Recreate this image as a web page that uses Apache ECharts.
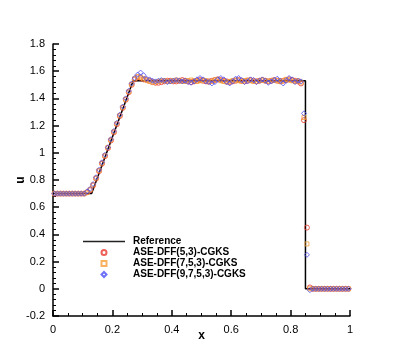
<!DOCTYPE html>
<html>
<head>
<meta charset="utf-8">
<script src="https://cdn.jsdelivr.net/npm/echarts@6/dist/echarts.min.js"></script>
<style>
  html, body { margin: 0; padding: 0; background: #fff; }
  #main { width: 399px; height: 355px; }
</style>
</head>
<body>
<div id="main"></div>
<script>
// reference solution (piecewise linear)
const refX = [0, 0.13, 0.27, 0.85, 0.85, 1]
const refU = [0.7, 0.7, 1.53, 1.53, 0, 0]

// cell centres
const xs = [
  0.005, 0.015, 0.025, 0.035, 0.045, 0.055, 0.065, 0.075, 0.085, 0.095,
  0.105, 0.115, 0.125, 0.135, 0.145, 0.155, 0.165, 0.175, 0.185, 0.195,
  0.205, 0.215, 0.225, 0.235, 0.245, 0.255, 0.265, 0.275, 0.285, 0.295,
  0.305, 0.315, 0.325, 0.335, 0.345, 0.355, 0.365, 0.375, 0.385, 0.395,
  0.405, 0.415, 0.425, 0.435, 0.445, 0.455, 0.465, 0.475, 0.485, 0.495,
  0.505, 0.515, 0.525, 0.535, 0.545, 0.555, 0.565, 0.575, 0.585, 0.595,
  0.605, 0.615, 0.625, 0.635, 0.645, 0.655, 0.665, 0.675, 0.685, 0.695,
  0.705, 0.715, 0.725, 0.735, 0.745, 0.755, 0.765, 0.775, 0.785, 0.795,
  0.805, 0.815, 0.825, 0.835, 0.845, 0.855, 0.865, 0.875, 0.885, 0.895,
  0.905, 0.915, 0.925, 0.935, 0.945, 0.955, 0.965, 0.975, 0.985, 0.995
]

const dff53 = [
  0.70, 0.70, 0.70, 0.70, 0.70, 0.70, 0.70, 0.70, 0.70, 0.70,
  0.70, 0.71, 0.725, 0.76, 0.81, 0.865, 0.92, 0.975, 1.035, 1.09,
  1.15, 1.21, 1.27, 1.33, 1.39, 1.445, 1.50, 1.54, 1.555, 1.55,
  1.54, 1.535, 1.53, 1.52, 1.515, 1.515, 1.52, 1.525, 1.53, 1.53,
  1.525, 1.525, 1.53, 1.535, 1.53, 1.525, 1.52, 1.525, 1.53, 1.535,
  1.53, 1.525, 1.525, 1.53, 1.535, 1.54, 1.535, 1.53, 1.525, 1.52,
  1.525, 1.53, 1.535, 1.53, 1.525, 1.53, 1.535, 1.53, 1.525, 1.53,
  1.535, 1.53, 1.525, 1.53, 1.535, 1.53, 1.525, 1.53, 1.535, 1.54,
  1.535, 1.53, 1.525, 1.51, 1.24, 0.45, 0.01, 0.0, 0.0, 0.0,
  0.0, 0.0, 0.0, 0.0, 0.0, 0.0, 0.0, 0.0, 0.0, 0.0
]

const dff753 = [
  0.70, 0.70, 0.70, 0.70, 0.70, 0.70, 0.70, 0.70, 0.70, 0.70,
  0.70, 0.71, 0.73, 0.765, 0.815, 0.87, 0.925, 0.98, 1.04, 1.095,
  1.155, 1.215, 1.275, 1.335, 1.395, 1.45, 1.505, 1.545, 1.56, 1.555,
  1.545, 1.535, 1.525, 1.52, 1.52, 1.525, 1.53, 1.53, 1.525, 1.525,
  1.53, 1.535, 1.53, 1.525, 1.525, 1.53, 1.535, 1.53, 1.525, 1.53,
  1.535, 1.53, 1.52, 1.525, 1.535, 1.54, 1.53, 1.525, 1.52, 1.525,
  1.53, 1.535, 1.53, 1.525, 1.53, 1.535, 1.53, 1.525, 1.525, 1.53,
  1.535, 1.53, 1.525, 1.53, 1.535, 1.53, 1.525, 1.53, 1.54, 1.535,
  1.53, 1.525, 1.53, 1.52, 1.26, 0.33, 0.0, 0.0, 0.0, 0.0,
  0.0, 0.0, 0.0, 0.0, 0.0, 0.0, 0.0, 0.0, 0.0, 0.0
]

const dff9753 = [
  0.70, 0.70, 0.70, 0.70, 0.70, 0.70, 0.70, 0.70, 0.70, 0.70,
  0.70, 0.715, 0.735, 0.77, 0.82, 0.875, 0.93, 0.985, 1.04, 1.10,
  1.16, 1.22, 1.28, 1.34, 1.40, 1.455, 1.51, 1.55, 1.575, 1.59,
  1.57, 1.545, 1.54, 1.53, 1.525, 1.53, 1.535, 1.53, 1.52, 1.525,
  1.53, 1.535, 1.53, 1.525, 1.53, 1.52, 1.515, 1.525, 1.54, 1.55,
  1.54, 1.525, 1.52, 1.51, 1.52, 1.54, 1.55, 1.54, 1.52, 1.51,
  1.525, 1.545, 1.55, 1.535, 1.52, 1.525, 1.54, 1.535, 1.52, 1.53,
  1.54, 1.53, 1.515, 1.525, 1.535, 1.545, 1.53, 1.51, 1.53, 1.55,
  1.54, 1.52, 1.53, 1.525, 1.29, 0.25, -0.01, 0.0, 0.0, 0.0,
  0.0, 0.0, 0.0, 0.0, 0.0, 0.0, 0.0, 0.0, 0.0, 0.0
]

const pair = (a, b) => a.map((v, i) => [v, b[i]])

// open markers + thin bar for the reference line legend
const squareIcon = 'path://M0,0L10,0L10,10L0,10Z'
const diamondIcon = 'path://M5,0L10,5L5,10L0,5Z'
const lineIcon = 'path://M0,0L84,0L84,3L0,3Z'

let myChart = echarts.init(document.getElementById('main'))
let font = 'Liberation Sans, Arial, Helvetica, sans-serif'
let axisCommon = {
  axisLine: { show: true, onZero: false, lineStyle: { color: '#000', width: 1.5 } },
  axisTick: { show: true, inside: true, length: 6, lineStyle: { color: '#000', width: 1.5 } },
  minorTick: { show: true, length: 3, lineStyle: { color: '#000', width: 1 } },
  axisLabel: { color: '#000', fontSize: 11, fontFamily: font },
  splitLine: { show: false },
  nameMoveOverlap: false,
  nameTextStyle: { color: '#000', fontSize: 12, fontWeight: 'bold', fontFamily: font }
}
let option = {
  animation: false,
  backgroundColor: '#fff',
  grid: { left: 53, right: 49, top: 44, bottom: 39, containLabel: false, outerBoundsMode: 'none' },
  legend: {
    orient: 'vertical',
    left: 83,
    top: 236,
    itemWidth: 42,
    itemHeight: 5,
    itemGap: 0,
    padding: 0,
    textStyle: { color: '#000', fontSize: 10, fontWeight: 'bold', fontFamily: font, lineHeight: 11, padding: [0, 0, 0, 3] },
    data: [
      { name: 'Reference', icon: lineIcon, itemStyle: { color: '#222' } },
      { name: 'ASE-DFF(5,3)-CGKS', icon: 'circle' },
      { name: 'ASE-DFF(7,5,3)-CGKS', icon: squareIcon },
      { name: 'ASE-DFF(9,7,5,3)-CGKS', icon: diamondIcon }
    ]
  },
  xAxis: Object.assign({}, axisCommon, {
    type: 'value',
    min: 0,
    max: 1,
    interval: 0.2,
    minorTick: Object.assign({}, axisCommon.minorTick, { splitNumber: 4 }),
    name: 'x',
    nameLocation: 'middle',
    nameGap: 14
  }),
  yAxis: Object.assign({}, axisCommon, {
    type: 'value',
    min: -0.2,
    max: 1.8,
    interval: 0.2,
    minorTick: Object.assign({}, axisCommon.minorTick, { splitNumber: 5 }),
    name: 'u',
    nameLocation: 'middle',
    nameGap: 26,
    nameRotate: 90
  }),
  series: [
    {
      name: 'Reference',
      type: 'line',
      symbol: 'none',
      color: '#000',
      lineStyle: { color: '#000', width: 1.5 },
      data: pair(refX, refU),
      z: 1
    },
    {
      name: 'ASE-DFF(5,3)-CGKS',
      type: 'scatter',
      symbol: 'circle',
      symbolSize: 5,
      itemStyle: { color: 'rgba(0,0,0,0)', borderColor: '#e8392e', borderWidth: 1 },
      data: pair(xs, dff53),
      z: 2
    },
    {
      name: 'ASE-DFF(7,5,3)-CGKS',
      type: 'scatter',
      symbol: squareIcon,
      symbolSize: 4,
      itemStyle: { color: 'rgba(0,0,0,0)', borderColor: '#f5a03a', borderWidth: 1 },
      data: pair(xs, dff753),
      z: 3
    },
    {
      name: 'ASE-DFF(9,7,5,3)-CGKS',
      type: 'scatter',
      symbol: diamondIcon,
      symbolSize: 5,
      itemStyle: { color: 'rgba(0,0,0,0)', borderColor: '#4a4cf5', borderWidth: 1 },
      data: pair(xs, dff9753),
      z: 4
    }
  ]
}
myChart.setOption(option)
</script>
</body>
</html>
